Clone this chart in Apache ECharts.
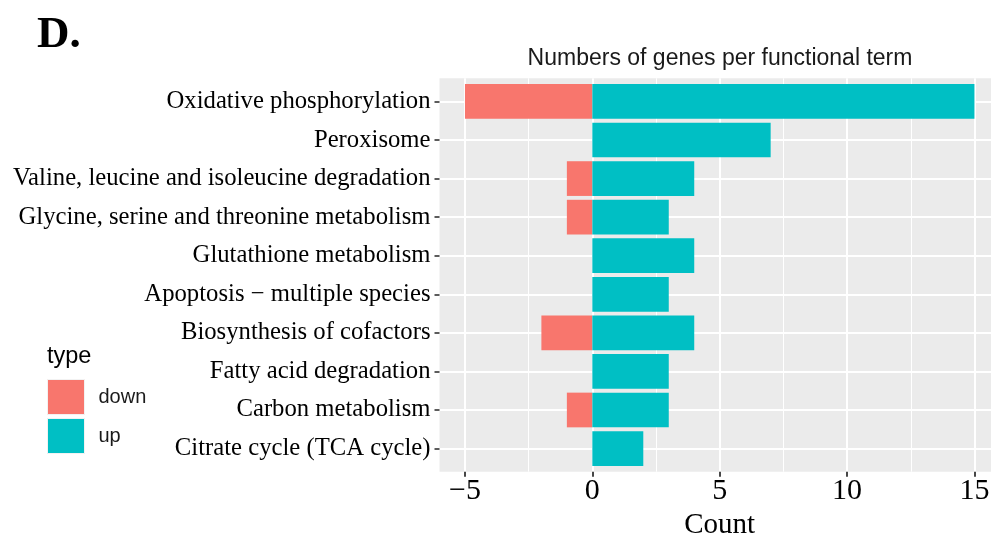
<!DOCTYPE html>
<html>
<head>
<meta charset="utf-8">
<script src="https://cdn.jsdelivr.net/npm/echarts@6/dist/echarts.min.js"></script>
<style>
  html, body { margin: 0; padding: 0; background: #fff; }
  #chart { width: 991px; height: 534px; }
</style>
</head>
<body>
<div id="chart"></div>
<script>
// Functional terms, listed top to bottom
const categories = [
  'Oxidative phosphorylation',
  'Peroxisome',
  'Valine, leucine and isoleucine degradation',
  'Glycine, serine and threonine metabolism',
  'Glutathione metabolism',
  'Apoptosis \u2212 multiple species',
  'Biosynthesis of cofactors',
  'Fatty acid degradation',
  'Carbon metabolism',
  'Citrate cycle (TCA cycle)'
];
// Gene counts per term (down-regulated shown as negative)
const downValues = [-5, 0, -1, -1, 0, 0, -2, 0, -1, 0];
const upValues = [15, 7, 4, 3, 4, 3, 4, 3, 3, 2];
// Axis breaks
const xMajorTicks = [-5, 0, 5, 10, 15];
const xMinorTicks = [-2.5, 2.5, 7.5, 12.5];
const xRange = [-6, 15.65]; // panel runs to the right edge of the page
const xTickLabels = ['\u22125', '0', '5', '10', '15'];
const seriesNames = ['down', 'up'];
const colors = { down: '#F8766D', up: '#00BFC4' };

const SERIF = '"Liberation Serif", "Times New Roman", serif';
const SANS = '"Liberation Sans", Arial, sans-serif';

// Panel geometry (ggplot-like discrete expansion of 0.6 per side)
const W = 991, H = 534;
const panelLeft = 439.5, panelRight = W, panelTop = 78.3, panelBottomY = 471.7;
const nCat = categories.length;
const step = (panelBottomY - panelTop) / (nCat + 0.2);
const bandTop = panelTop + 0.1 * step;
const bandBottom = panelBottomY - 0.1 * step;
// pixel span of the labelled part of the count axis (first to last major break)
const pxPerUnit = (panelRight - panelLeft) / (xRange[1] - xRange[0]);
const tickLeft = panelLeft + (xMajorTicks[0] - xRange[0]) * pxPerUnit;
const tickRight = panelLeft + (xMajorTicks[xMajorTicks.length - 1] - xRange[0]) * pxPerUnit;

const chart = echarts.init(document.getElementById('chart'), null, { renderer: 'canvas' });

const rowIndex = categories.map((_, i) => i + 1);

chart.setOption({
  animation: false,
  backgroundColor: '#ffffff',
  graphic: [
    { type: 'text', left: 37, top: 13,
      style: { text: 'D.', font: 'bold 45px ' + SERIF, fill: '#000' } },
    { type: 'text', x: 720, y: 59,
      style: { text: 'Numbers of genes per functional term', font: '23px ' + SANS,
               fill: '#1a1a1a', align: 'center', verticalAlign: 'middle' } },
    { type: 'text', x: 47, y: 357,
      style: { text: 'type', font: '23.5px ' + SANS, fill: '#000',
               align: 'left', verticalAlign: 'middle' } }
  ],
  legend: {
    data: seriesNames,
    orient: 'vertical',
    left: 47,
    top: 379,
    padding: 0,
    itemWidth: 37,
    itemHeight: 35,
    itemGap: 3,
    icon: 'rect',
    itemStyle: { borderColor: '#F2F2F2', borderWidth: 1 },
    textStyle: { fontFamily: SANS, fontSize: 20, color: '#1a1a1a', padding: [2, 0, 0, 9] }
  },
  grid: [
    { // panel background and gridlines
      left: panelLeft, top: panelTop, right: W - panelRight, bottom: H - panelBottomY,
      outerBoundsMode: 'none',
      show: true, backgroundColor: '#EBEBEB', borderWidth: 0, containLabel: false
    },
    { // bars and term labels
      left: panelLeft, top: bandTop, right: W - panelRight, bottom: H - bandBottom,
      outerBoundsMode: 'none',
      show: false, containLabel: false
    },
    { // count axis ticks, labels and title
      left: tickLeft, top: panelTop, right: W - tickRight, bottom: H - panelBottomY,
      outerBoundsMode: 'none',
      show: false, containLabel: false
    }
  ],
  xAxis: [
    {
      type: 'value', gridIndex: 0, min: xRange[0], max: xRange[1],
      axisLine: { show: false, onZero: false },
      axisTick: { show: false, customValues: xMajorTicks },
      axisLabel: { show: false, customValues: xMajorTicks },
      splitLine: { show: true, lineStyle: { color: '#ffffff', width: 2 } }
    },
    {
      type: 'value', gridIndex: 0, min: xRange[0], max: xRange[1],
      axisLine: { show: false, onZero: false },
      axisTick: { show: false, customValues: xMinorTicks },
      axisLabel: { show: false, customValues: xMinorTicks },
      splitLine: { show: true, lineStyle: { color: '#ffffff', width: 1 } }
    },
    {
      type: 'value', gridIndex: 1, min: xRange[0], max: xRange[1],
      show: false, splitLine: { show: false }
    },
    {
      type: 'category', gridIndex: 2, position: 'bottom', z: 5,
      data: xTickLabels, boundaryGap: false,
      name: 'Count', nameLocation: 'middle', nameGap: 36,
      nameTextStyle: { fontFamily: SERIF, fontSize: 29, color: '#000' },
      axisLine: { show: false, onZero: false },
      axisTick: { show: true, inside: false, length: 5, interval: 0,
                  lineStyle: { color: '#333333', width: 1.8 } },
      axisLabel: { show: true, margin: 8, lineHeight: 22, interval: 0,
                   fontFamily: SERIF, fontSize: 30, color: '#000' },
      splitLine: { show: false }
    }
  ],
  yAxis: [
    {
      type: 'value', gridIndex: 0, inverse: true, min: 0.4, max: nCat + 0.6,
      axisLine: { show: false, onZero: false },
      axisTick: { show: false, customValues: rowIndex },
      axisLabel: { show: false, customValues: rowIndex },
      splitLine: { show: true, lineStyle: { color: '#ffffff', width: 2 } }
    },
    {
      type: 'category', gridIndex: 1, inverse: true, data: categories,
      axisLine: { show: false, onZero: false },
      axisTick: { show: true, alignWithLabel: true, length: 5,
                  lineStyle: { color: '#333', width: 1.6 } },
      axisLabel: { show: true, margin: 9,
                   fontFamily: SERIF, fontSize: 24.7, color: '#000' },
      splitLine: { show: false }
    },
    {
      type: 'value', gridIndex: 2, show: false, splitLine: { show: false }
    }
  ],
  series: [
    {
      name: 'down', type: 'bar', stack: 'count', xAxisIndex: 2, yAxisIndex: 1,
      data: downValues, barWidth: '90%',
      itemStyle: { color: colors.down }
    },
    {
      name: 'up', type: 'bar', stack: 'count', xAxisIndex: 2, yAxisIndex: 1,
      data: upValues, barWidth: '90%',
      itemStyle: { color: colors.up }
    }
  ]
});
</script>
</body>
</html>
